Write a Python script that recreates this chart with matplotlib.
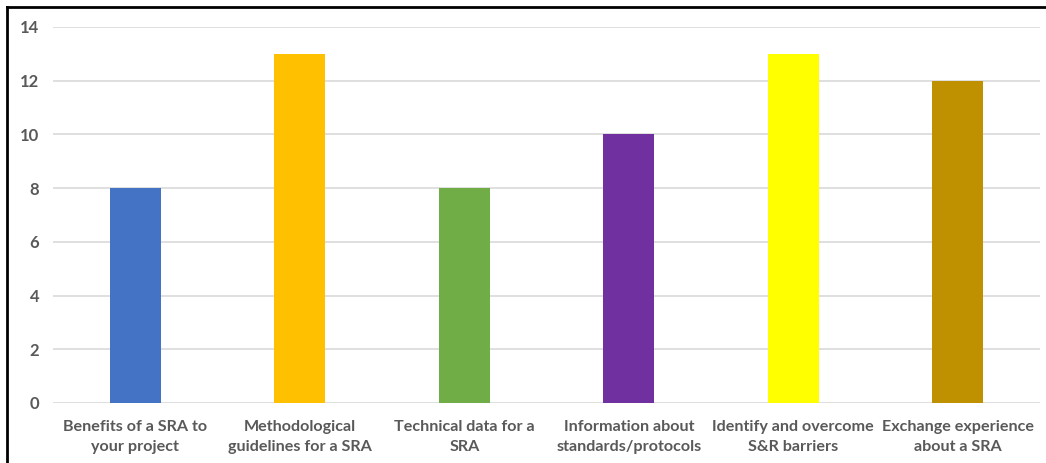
import matplotlib
matplotlib.use("Agg")
import matplotlib.pyplot as plt
from matplotlib.lines import Line2D

# survey counts per topic of interest
categories = ["Benefits of a SRA to\nyour project",
              "Methodological\nguidelines for a SRA",
              "Technical data for a\nSRA",
              "Information about\nstandards/protocols",
              "Identify and overcome\nS&R barriers",
              "Exchange experience\nabout a SRA"]
counts = [8, 13, 8, 10, 13, 12]
bar_colors = ["#4472C4", "#FFC000", "#70AD47", "#7030A0", "#FFFF00", "#BF9000"]

text_grey = "#595959"
plt.rcParams["font.family"] = ["Lato", "DejaVu Sans"]

fig = plt.figure(figsize=(10.46, 4.63), dpi=100)
ax = fig.add_axes([0.0507, 0.1296, 0.9436, 0.8121])

x = range(len(categories))
ax.bar(x, counts, width=0.31, color=bar_colors, zorder=3)

ax.set_xlim(-0.5, len(categories) - 0.5)
ax.set_ylim(0, 14)
ax.set_yticks(range(0, 15, 2))
ax.set_xticks(list(x))
ax.set_xticklabels(categories, fontsize=11.6, fontweight="bold", color=text_grey,
                   linespacing=1.6)
for lbl in ax.get_yticklabels():
    lbl.set_fontsize(12)
    lbl.set_fontweight("bold")
    lbl.set_color(text_grey)

ax.grid(axis="y", color="#D9D9D9", linewidth=1.2, zorder=0)
ax.tick_params(axis="both", length=0)
ax.tick_params(axis="y", pad=10)
ax.tick_params(axis="x", pad=12)
for side in ["top", "right", "left", "bottom"]:
    ax.spines[side].set_visible(False)

# black frame along the top and left edges of the figure
fig.add_artist(Line2D([0.0067, 1.0], [0.9849, 0.9849], color="black", linewidth=2,
                      transform=fig.transFigure))
fig.add_artist(Line2D([0.0067, 0.0067], [0.0, 0.9849], color="black", linewidth=2,
                      transform=fig.transFigure))

fig.savefig("out.png", dpi=100)
